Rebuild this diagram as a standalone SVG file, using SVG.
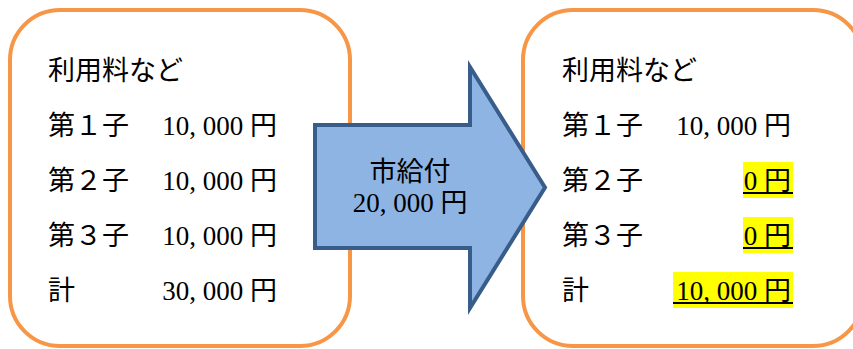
<svg xmlns="http://www.w3.org/2000/svg" width="853" height="349" viewBox="0 0 853 349">
<style>
.box{fill:#fff;stroke:#F79646;stroke-width:4}
.t{font-family:"Liberation Serif","Noto Sans CJK JP",serif;font-size:27px;fill:#000}
.r{text-anchor:end}
.c{text-anchor:middle}
.hl{fill:#FFFF00}
.ul{fill:#000}
</style>
<rect width="853" height="349" fill="#fff"/>
<g id="before">
<rect class="box" x="10" y="10" width="340" height="336" rx="50"/>
<text class="t" x="48" y="80">利用料など</text>
<text class="t" x="48" y="135">第１子</text>
<text class="t r" x="277" y="135">10, 000 円</text>
<text class="t" x="48" y="190">第２子</text>
<text class="t r" x="277" y="190">10, 000 円</text>
<text class="t" x="48" y="245">第３子</text>
<text class="t r" x="277" y="245">10, 000 円</text>
<text class="t" x="48" y="300">計</text>
<text class="t r" x="277" y="300">30, 000 円</text>
</g>
<g id="after">
<rect class="box" x="523" y="10" width="340" height="336" rx="50"/>
<rect class="hl" x="743" y="162" width="50" height="36"/>
<rect class="hl" x="743" y="217" width="50" height="36"/>
<rect class="hl" x="673" y="272" width="120" height="36"/>
<text class="t" x="562" y="80">利用料など</text>
<text class="t" x="562" y="135">第１子</text>
<text class="t r" x="791" y="135">10, 000 円</text>
<text class="t" x="562" y="190">第２子</text>
<text class="t r" x="791" y="190">0 円</text>
<text class="t" x="562" y="245">第３子</text>
<text class="t r" x="791" y="245">0 円</text>
<text class="t" x="562" y="300">計</text>
<text class="t r" x="791" y="300">10, 000 円</text>
<rect class="ul" x="743" y="192" width="50" height="2"/>
<rect class="ul" x="743" y="247" width="50" height="2"/>
<rect class="ul" x="673" y="302" width="120" height="2"/>
</g>
<g id="connectors">
<g id="arrow">
<polygon points="315,125 470,125 470,67 545,187.5 470,308 470,248 315,248" fill="#8EB4E3" stroke="#385D8A" stroke-width="4" stroke-linejoin="miter"/>
<text class="t c" x="410" y="181">市給付</text>
<text class="t c" x="410" y="212">20, 000 円</text>
</g>
</g>
</svg>
